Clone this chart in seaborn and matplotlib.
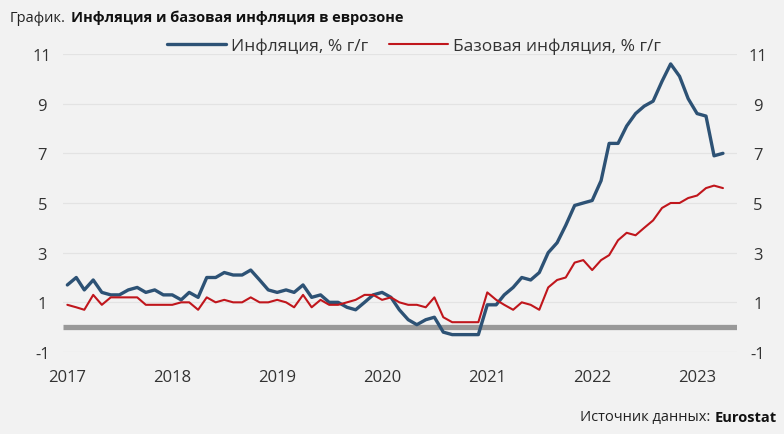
import matplotlib
matplotlib.use("Agg")
import matplotlib.pyplot as plt
import seaborn as sns
import pandas as pd

# ─── Data (Eurostat, % y/y, Jan 2017 – Apr 2023) ──────────────────────────────
months = pd.date_range("2017-01-01", "2023-04-01", freq="MS")

inflation = [
    1.7, 2.0, 1.5, 1.9, 1.4, 1.3, 1.3, 1.5, 1.6, 1.4, 1.5, 1.3,   # 2017
    1.3, 1.1, 1.4, 1.2, 2.0, 2.0, 2.2, 2.1, 2.1, 2.3, 1.9, 1.5,   # 2018
    1.4, 1.5, 1.4, 1.7, 1.2, 1.3, 1.0, 1.0, 0.8, 0.7, 1.0, 1.3,   # 2019
    1.4, 1.2, 0.7, 0.3, 0.1, 0.3, 0.4, -0.2, -0.3, -0.3, -0.3, -0.3,  # 2020
    0.9, 0.9, 1.3, 1.6, 2.0, 1.9, 2.2, 3.0, 3.4, 4.1, 4.9, 5.0,   # 2021
    5.1, 5.9, 7.4, 7.4, 8.1, 8.6, 8.9, 9.1, 9.9, 10.6, 10.1, 9.2,  # 2022
    8.6, 8.5, 6.9, 7.0,                                           # 2023
]
core = [
    0.9, 0.8, 0.7, 1.3, 0.9, 1.2, 1.2, 1.2, 1.2, 0.9, 0.9, 0.9,
    0.9, 1.0, 1.0, 0.7, 1.2, 1.0, 1.1, 1.0, 1.0, 1.2, 1.0, 1.0,
    1.1, 1.0, 0.8, 1.3, 0.8, 1.1, 0.9, 0.9, 1.0, 1.1, 1.3, 1.3,
    1.1, 1.2, 1.0, 0.9, 0.9, 0.8, 1.2, 0.4, 0.2, 0.2, 0.2, 0.2,
    1.4, 1.1, 0.9, 0.7, 1.0, 0.9, 0.7, 1.6, 1.9, 2.0, 2.6, 2.7,
    2.3, 2.7, 2.9, 3.5, 3.8, 3.7, 4.0, 4.3, 4.8, 5.0, 5.0, 5.2,
    5.3, 5.6, 5.7, 5.6,
]
series_names = ["Инфляция, % г/г", "Базовая инфляция, % г/г"]
y_ticks = [-1, 1, 3, 5, 7, 9, 11]
x_years = [2017, 2018, 2019, 2020, 2021, 2022, 2023]

df = pd.DataFrame({"date": months, series_names[0]: inflation, series_names[1]: core})
long_df = df.melt(id_vars="date", var_name="series", value_name="value")

# ─── Style ────────────────────────────────────────────────────────────────────
BG = "#f2f2f2"
BLUE, RED = "#2d5275", "#c0161c"
sns.set_style("white")
plt.rcParams["font.family"] = ["Open Sans", "DejaVu Sans"]

fig = plt.figure(figsize=(7.84, 4.35), dpi=100, facecolor=BG)
ax = fig.add_axes([0.0804, 0.1885, 0.8597, 0.6851], facecolor=BG)

for y in y_ticks:
    ax.axhline(y, color="#e3e3e3", lw=0.9, zorder=0)
ax.axhline(0, color="#999999", lw=3.8, zorder=1, solid_capstyle="butt")

sns.lineplot(
    data=long_df, x="date", y="value", hue="series",
    palette=[BLUE, RED], ax=ax, legend=False,
    solid_joinstyle="round", solid_capstyle="round",
)
for line, lw in zip(ax.get_lines()[-2:], [2.4, 1.5]):
    line.set_linewidth(lw)
    line.set_zorder(3)

ax.set_xlim(pd.Timestamp("2016-12-17"), pd.Timestamp("2023-05-20"))
ax.set_ylim(-1, 11)
ax.set_yticks(y_ticks)
ax.set_yticklabels([str(v) for v in y_ticks])
ax.set_xticks([pd.Timestamp(f"{y}-01-01") for y in x_years])
ax.set_xticklabels([str(y) for y in x_years])
ax.tick_params(axis="both", length=0, labelsize=12, colors="#333333")
ax.tick_params(axis="x", pad=12)
ax.tick_params(axis="y", labelright=True, pad=15)
for lab in ax.get_yticklabels():
    lab.set_horizontalalignment("center")
ax.set_xlabel("")
ax.set_ylabel("")
sns.despine(ax=ax, left=True, bottom=True)

# legend
handles = [plt.Line2D([], [], color=BLUE, lw=2.4),
           plt.Line2D([], [], color=RED, lw=1.5)]
fig.legend(handles, series_names, loc="center", bbox_to_anchor=(0.528, 0.892),
           ncol=2, frameon=False, fontsize=12.5, handlelength=3.4,
           handletextpad=0.3, columnspacing=1.2, labelcolor="#333333")

# title & source: bold part placed right after the regular part
renderer = fig.canvas.get_renderer()
t1 = fig.text(10 / 784, 0.958, "График.", fontsize=10.5, color="#222222", va="center")
x1 = t1.get_window_extent(renderer).x1 / 784 + 5 / 784
fig.text(x1, 0.958, "Инфляция и базовая инфляция в еврозоне",
         fontsize=10.5, fontweight="bold", color="#111111", va="center")

s2 = fig.text(777 / 784, 0.04, "Eurostat", fontsize=10.5, fontweight="bold",
              color="#111111", va="center", ha="right")
x2 = s2.get_window_extent(renderer).x0 / 784 - 4 / 784
fig.text(x2, 0.04, "Источник данных:", fontsize=10.5, color="#222222",
         va="center", ha="right")

fig.savefig("out.png", dpi=100, facecolor=BG)
